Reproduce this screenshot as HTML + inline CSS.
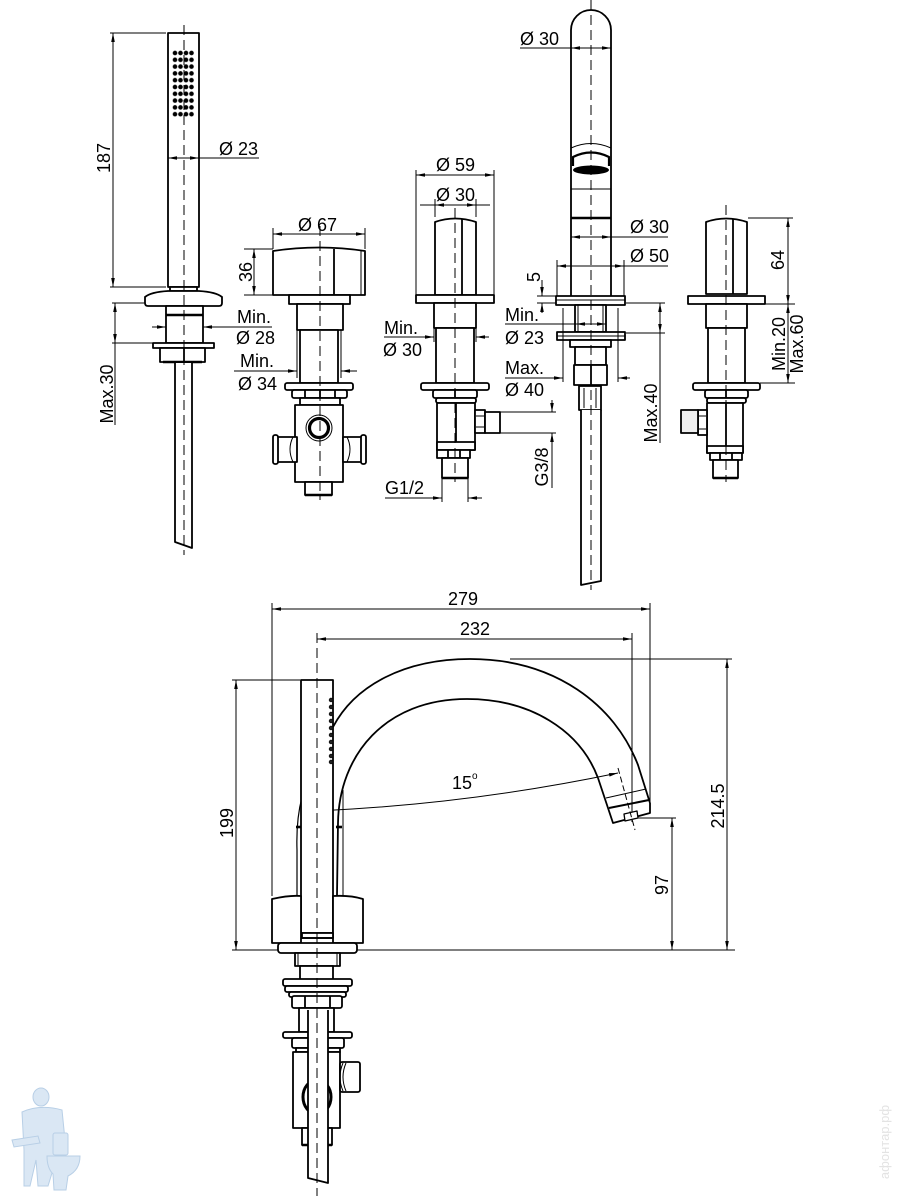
<!DOCTYPE html>
<html><head><meta charset="utf-8"><style>
html,body{margin:0;padding:0;background:#fff;}
svg{display:block;}
.o{fill:#fff;stroke:#000;stroke-width:1.8;stroke-linejoin:round;}
.n{fill:none;stroke:#000;stroke-width:1.8;stroke-linejoin:round;}
.t{fill:none;stroke:#000;stroke-width:2.6;}
.d{fill:none;stroke:#000;stroke-width:1;}
.c{fill:none;stroke:#000;stroke-width:1;stroke-dasharray:10 5;}
text{font-family:"Liberation Sans",Arial,sans-serif;font-size:18px;fill:#000;}
</style></head><body>
<svg width="900" height="1200" viewBox="0 0 900 1200" xmlns="http://www.w3.org/2000/svg">
<defs>
<marker id="ar" viewBox="0 0 10 4" refX="10" refY="2" markerWidth="10" markerHeight="3.6" orient="auto-start-reverse" markerUnits="userSpaceOnUse"><path d="M0,0L10,2L0,4Z" fill="#000"/></marker>
<pattern id="dots" x="172.25" y="49.6" width="5.5" height="6.8" patternUnits="userSpaceOnUse"><circle cx="2.75" cy="3.4" r="2.3" fill="#000"/></pattern>
</defs>

<!-- ============ COMPONENT 1: hand shower ============ -->
<rect class="o" x="168" y="33" width="31" height="254"/>
<rect x="172.25" y="49.6" width="22" height="68" fill="url(#dots)"/>
<rect class="o" x="170" y="287" width="27" height="4"/>
<path class="o" d="M168,291 L199,291 Q216,292 222,297 L222,303 Q222,306 219,306 L148,306 Q145,306 145,303 L145,297 Q151,292 168,291Z"/>
<rect class="o" x="166" y="306" width="37" height="37"/>
<line class="t" x1="166" y1="315" x2="203" y2="315"/>
<rect class="o" x="153" y="343" width="61" height="5"/>
<rect class="o" x="160" y="348" width="45" height="14"/>
<line class="n" x1="184" y1="348" x2="184" y2="362"/>
<line class="t" x1="163" y1="362" x2="202" y2="362"/>
<path class="o" d="M175,363 L175,542 L192,548 L192,363"/>
<line class="c" x1="184" y1="25" x2="184" y2="555"/>
<!-- dims -->
<line class="d" x1="110" y1="33" x2="166" y2="33"/>
<line class="d" x1="110" y1="287" x2="166" y2="287"/>
<line class="d" x1="113" y1="33" x2="113" y2="287" marker-start="url(#ar)" marker-end="url(#ar)"/>
<text transform="translate(110,158) rotate(-90)" text-anchor="middle">187</text>
<line class="d" x1="168" y1="158" x2="199" y2="158" marker-start="url(#ar)" marker-end="url(#ar)"/>
<line class="d" x1="199" y1="158" x2="259" y2="158"/>
<text x="219" y="155">Ø 23</text>
<line class="d" x1="112" y1="303" x2="145" y2="303"/>
<line class="d" x1="112" y1="343" x2="153" y2="343"/>
<line class="d" x1="115" y1="303" x2="115" y2="343" marker-start="url(#ar)" marker-end="url(#ar)"/>
<line class="d" x1="115" y1="343" x2="115" y2="425"/>
<text transform="translate(113,394) rotate(-90)" text-anchor="middle">Max.30</text>
<line class="d" x1="152" y1="327" x2="166" y2="327" marker-end="url(#ar)"/>
<line class="d" x1="272" y1="327" x2="203" y2="327" marker-end="url(#ar)"/>
<text x="237" y="323">Min.</text>
<text x="236" y="344">Ø 28</text>

<!-- ============ COMPONENT 2: diverter ============ -->
<path class="o" d="M273,295 L273,251 Q319,244 365,251 L365,295 Z"/>
<line class="n" x1="334" y1="249" x2="334" y2="295"/>
<line class="d" x1="361" y1="250" x2="361" y2="295"/>
<rect class="o" x="289" y="295" width="61" height="9"/>
<rect class="o" x="297" y="304" width="46" height="26"/>
<rect class="o" x="300" y="330" width="38" height="53"/>
<line class="d" x1="297" y1="330" x2="297" y2="378"/>
<line class="d" x1="341" y1="330" x2="341" y2="378"/>
<rect class="o" x="285" y="383" width="68" height="7" rx="2"/>
<rect class="o" x="292" y="390" width="55" height="8" rx="2"/>
<line class="n" x1="305" y1="390" x2="305" y2="398"/>
<line class="n" x1="320" y1="390" x2="320" y2="398"/>
<line class="n" x1="335" y1="390" x2="335" y2="398"/>
<rect class="o" x="300" y="398" width="40" height="7"/>
<rect class="o" x="295" y="405" width="48" height="77"/>
<rect class="o" x="277" y="437" width="20" height="25"/>
<rect class="o" x="273" y="435" width="5" height="29" rx="2"/>
<path class="d" d="M293,437 Q287,449 293,462"/>
<rect class="o" x="343" y="437" width="19" height="25"/>
<rect class="o" x="361" y="435" width="5" height="29" rx="2"/>
<path class="d" d="M347,437 Q353,449 347,462"/>
<circle cx="319" cy="428" r="13" fill="#fff" stroke="#000" stroke-width="1"/>
<circle cx="319" cy="428" r="9.5" fill="none" stroke="#000" stroke-width="3.2"/>
<rect class="o" x="305" y="482" width="27" height="13"/>
<line class="t" x1="305" y1="495" x2="332" y2="495"/>
<line class="c" x1="320" y1="226" x2="320" y2="500"/>
<!-- dims -->
<line class="d" x1="273" y1="228" x2="273" y2="249"/>
<line class="d" x1="365" y1="228" x2="365" y2="249"/>
<line class="d" x1="273" y1="234" x2="365" y2="234" marker-start="url(#ar)" marker-end="url(#ar)"/>
<text x="298" y="231">Ø 67</text>
<line class="d" x1="244" y1="249" x2="273" y2="249"/>
<line class="d" x1="244" y1="295" x2="289" y2="295"/>
<line class="d" x1="254" y1="249" x2="254" y2="295" marker-start="url(#ar)" marker-end="url(#ar)"/>
<text transform="translate(252,272) rotate(-90)" text-anchor="middle">36</text>
<line class="d" x1="234" y1="371" x2="297" y2="371" marker-end="url(#ar)"/>
<line class="d" x1="357" y1="371" x2="341" y2="371" marker-end="url(#ar)"/>
<text x="240" y="367">Min.</text>
<text x="238" y="390">Ø 34</text>

<!-- ============ COMPONENT 3: valve ============ -->
<path class="o" d="M435,295 L435,222 Q455,215 476,222 L476,295 Z"/>
<line class="n" x1="462" y1="219" x2="462" y2="295"/>
<rect class="o" x="416" y="295" width="78" height="8"/>
<rect class="o" x="434" y="303" width="42" height="25"/>
<rect class="o" x="436" y="328" width="38" height="55"/>
<line class="d" x1="434" y1="328" x2="434" y2="342"/>
<line class="d" x1="476" y1="328" x2="476" y2="342"/>
<rect class="o" x="421" y="383" width="68" height="7" rx="2"/>
<rect class="o" x="433" y="390" width="44" height="8" rx="2"/>
<line class="n" x1="455" y1="390" x2="455" y2="398"/>
<rect class="o" x="436" y="398" width="40" height="5" rx="2"/>
<rect class="o" x="437" y="403" width="38" height="47"/>
<line class="n" x1="456" y1="403" x2="456" y2="450"/>
<rect class="o" x="475" y="410" width="10" height="23"/>
<path class="d" d="M476,416 L484,416 M476,427 L484,427"/>
<rect class="o" x="485" y="412" width="15" height="21"/>
<rect class="o" x="437" y="442" width="38" height="8"/>
<rect class="o" x="437" y="450" width="33" height="8"/>
<line class="n" x1="448" y1="450" x2="448" y2="458"/>
<line class="n" x1="460" y1="450" x2="460" y2="458"/>
<rect class="o" x="442" y="458" width="26" height="20"/>
<line class="t" x1="442" y1="478" x2="468" y2="478"/>
<line class="c" x1="455" y1="208" x2="455" y2="482"/>
<!-- dims -->
<line class="d" x1="416" y1="170" x2="416" y2="295"/>
<line class="d" x1="494" y1="170" x2="494" y2="295"/>
<line class="d" x1="416" y1="175" x2="494" y2="175" marker-start="url(#ar)" marker-end="url(#ar)"/>
<text x="436" y="171">Ø 59</text>
<line class="d" x1="435" y1="199" x2="435" y2="217"/>
<line class="d" x1="476" y1="199" x2="476" y2="217"/>
<line class="d" x1="420" y1="205" x2="490" y2="205"/>
<line class="d" x1="435" y1="205" x2="476" y2="205" marker-start="url(#ar)" marker-end="url(#ar)"/>
<text x="436" y="201">Ø 30</text>
<line class="d" x1="384" y1="337" x2="434" y2="337" marker-end="url(#ar)"/>
<line class="d" x1="489" y1="337" x2="476" y2="337" marker-end="url(#ar)"/>
<text x="384" y="334">Min.</text>
<text x="383" y="356">Ø 30</text>
<line class="d" x1="500" y1="412" x2="556" y2="412"/>
<line class="d" x1="500" y1="433" x2="556" y2="433"/>
<line class="d" x1="552" y1="400" x2="552" y2="412" marker-end="url(#ar)"/>
<line class="d" x1="552" y1="488" x2="552" y2="433" marker-end="url(#ar)"/>
<text transform="translate(548,467) rotate(-90)" text-anchor="middle">G3/8</text>
<line class="d" x1="442" y1="478" x2="442" y2="502"/>
<line class="d" x1="468" y1="478" x2="468" y2="502"/>
<line class="d" x1="385" y1="498" x2="442" y2="498" marker-end="url(#ar)"/>
<line class="d" x1="482" y1="498" x2="468" y2="498" marker-end="url(#ar)"/>
<text x="385" y="494">G1/2</text>

<!-- ============ COMPONENT 4: pull-out spout ============ -->
<path class="o" d="M571,296 L571,30 A20,20 0 0 1 611,30 L611,296"/>
<path class="n" d="M571,148 Q591,139 611,148" style="stroke-width:1"/>
<path class="n" d="M573,166 L573,157 Q591,148 609,157 L609,166" style="stroke-width:2.2"/>
<ellipse cx="591" cy="170" rx="18" ry="4.5" fill="#000"/>
<line class="d" x1="571" y1="189" x2="611" y2="189"/>
<line class="t" x1="571" y1="218" x2="611" y2="218"/>
<rect class="o" x="556" y="296" width="69" height="9"/>
<line class="d" x1="556" y1="300" x2="625" y2="300"/>
<rect class="o" x="575" y="305" width="31" height="27"/>
<line class="d" x1="578" y1="305" x2="578" y2="332"/>
<line class="d" x1="603" y1="305" x2="603" y2="332"/>
<rect class="o" x="557" y="332" width="68" height="8"/>
<line class="d" x1="557" y1="336" x2="625" y2="336"/>
<rect class="o" x="570" y="340" width="41" height="7"/>
<rect class="o" x="575" y="347" width="31" height="18"/>
<rect class="o" x="574" y="365" width="33" height="20"/>
<line class="n" x1="591" y1="365" x2="591" y2="385"/>
<rect class="o" x="579" y="386" width="22" height="24"/>
<line class="d" x1="584" y1="388" x2="584" y2="408"/>
<line class="d" x1="596" y1="388" x2="596" y2="408"/>
<path class="o" d="M581,410 L581,585 L601,581 L601,410"/>
<line class="c" x1="591" y1="0" x2="591" y2="590"/>
<!-- dims -->
<line class="d" x1="520" y1="48" x2="571" y2="48"/>
<line class="d" x1="571" y1="48" x2="611" y2="48" marker-start="url(#ar)" marker-end="url(#ar)"/>
<text x="520" y="45">Ø 30</text>
<line class="d" x1="571" y1="237" x2="611" y2="237" marker-start="url(#ar)" marker-end="url(#ar)"/>
<line class="d" x1="611" y1="237" x2="668" y2="237"/>
<text x="630" y="233">Ø 30</text>
<line class="d" x1="557" y1="260" x2="557" y2="296"/>
<line class="d" x1="624" y1="260" x2="624" y2="296"/>
<line class="d" x1="557" y1="266" x2="624" y2="266" marker-start="url(#ar)" marker-end="url(#ar)"/>
<line class="d" x1="624" y1="266" x2="668" y2="266"/>
<text x="630" y="262">Ø 50</text>
<line class="d" x1="537" y1="296" x2="556" y2="296"/>
<line class="d" x1="537" y1="303" x2="556" y2="303"/>
<line class="d" x1="542" y1="280" x2="542" y2="296" marker-end="url(#ar)"/>
<line class="d" x1="542" y1="313" x2="542" y2="303" marker-end="url(#ar)"/>
<text transform="translate(540,277) rotate(-90)" text-anchor="middle">5</text>
<line class="d" x1="505" y1="324" x2="576" y2="324"/>
<line class="d" x1="576" y1="324" x2="606" y2="324" marker-start="url(#ar)" marker-end="url(#ar)"/>
<text x="505" y="321">Min.</text>
<text x="505" y="344">Ø 23</text>
<line class="d" x1="563" y1="308" x2="563" y2="382"/>
<line class="d" x1="618" y1="308" x2="618" y2="382"/>
<line class="d" x1="505" y1="378" x2="563" y2="378" marker-end="url(#ar)"/>
<line class="d" x1="630" y1="378" x2="618" y2="378" marker-end="url(#ar)"/>
<text x="505" y="374">Max.</text>
<text x="505" y="396">Ø 40</text>
<line class="d" x1="626" y1="303" x2="665" y2="303"/>
<line class="d" x1="626" y1="333" x2="665" y2="333"/>
<line class="d" x1="660" y1="303" x2="660" y2="333" marker-start="url(#ar)" marker-end="url(#ar)"/>
<line class="d" x1="660" y1="333" x2="660" y2="443"/>
<text transform="translate(657,413) rotate(-90)" text-anchor="middle">Max.40</text>

<!-- ============ COMPONENT 5: right valve ============ -->
<path class="o" d="M706,294 L706,222 Q726,215 747,222 L747,294 Z"/>
<line class="n" x1="733" y1="219" x2="733" y2="294"/>
<rect class="o" x="688" y="296" width="77" height="8"/>
<rect class="o" x="706" y="304" width="41" height="24"/>
<rect class="o" x="708" y="328" width="37" height="55"/>
<rect class="o" x="693" y="383" width="67" height="7" rx="2"/>
<rect class="o" x="705" y="390" width="43" height="8" rx="2"/>
<line class="n" x1="726" y1="390" x2="726" y2="398"/>
<rect class="o" x="707" y="398" width="39" height="5" rx="2"/>
<rect class="o" x="707" y="403" width="36" height="50"/>
<line class="n" x1="726" y1="403" x2="726" y2="453"/>
<rect class="o" x="698" y="410" width="9" height="25"/>
<path class="d" d="M699,416 L706,416 M699,429 L706,429"/>
<rect class="o" x="681" y="410" width="17" height="23" style="fill:#eee"/>
<rect class="o" x="707" y="446" width="36" height="7"/>
<rect class="o" x="710" y="453" width="32" height="7"/>
<line class="n" x1="720" y1="453" x2="720" y2="460"/>
<line class="n" x1="732" y1="453" x2="732" y2="460"/>
<rect class="o" x="713" y="460" width="25" height="18"/>
<line class="t" x1="713" y1="478" x2="738" y2="478"/>
<line class="c" x1="726" y1="205" x2="726" y2="482"/>
<!-- dims -->
<line class="d" x1="748" y1="218" x2="793" y2="218"/>
<line class="d" x1="765" y1="304" x2="795" y2="304"/>
<line class="d" x1="760" y1="383" x2="795" y2="383"/>
<line class="d" x1="788" y1="218" x2="788" y2="304" marker-start="url(#ar)" marker-end="url(#ar)"/>
<line class="d" x1="788" y1="304" x2="788" y2="383" marker-start="url(#ar)" marker-end="url(#ar)"/>
<text transform="translate(784,260) rotate(-90)" text-anchor="middle">64</text>
<text transform="translate(785,344) rotate(-90)" text-anchor="middle">Min.20</text>
<text transform="translate(803,344) rotate(-90)" text-anchor="middle">Max.60</text>

<!-- ============ BOTTOM: side view ============ -->
<line class="d" x1="232" y1="950" x2="735" y2="950"/>
<line class="d" x1="272" y1="603" x2="272" y2="896"/>
<line class="d" x1="650" y1="603" x2="650" y2="813"/>
<line class="d" x1="272" y1="609" x2="650" y2="609" marker-start="url(#ar)" marker-end="url(#ar)"/>
<text x="463" y="605" text-anchor="middle">279</text>
<line class="d" x1="632" y1="633" x2="632" y2="822"/>
<line class="d" x1="317" y1="639" x2="632" y2="639" marker-start="url(#ar)" marker-end="url(#ar)"/>
<text x="475" y="635" text-anchor="middle">232</text>
<path class="n" d="M302,797 Q296,820 297,850 L297,895" style="stroke-width:1.2"/>
<line class="t" x1="296" y1="827" x2="302" y2="827"/>
<path class="n" d="M333,727 C355,685 405,659 470,659 C555,659 615,705 638,765 L650,803"/>
<path class="n" d="M337,895 L338,823 C339,755 385,699 467,699 C530,699 580,730 598,778"/>
<line class="t" x1="336" y1="827" x2="342" y2="827"/>
<line class="d" x1="343" y1="790" x2="343" y2="895"/>
<path class="n" d="M598,778 L613,823 L650,813 L650,803"/>
<line class="d" x1="606" y1="798" x2="646" y2="789"/>
<line class="n" x1="609" y1="808" x2="649" y2="800" style="stroke-width:2"/>
<path class="o" d="M624,814 L637,811 L638,818 L625,821Z" style="stroke-width:1.3"/>
<path class="c" d="M618,768 L635,830" style="stroke-dasharray:6 3"/>
<path class="d" d="M317,811 Q470,804 618,773" marker-start="url(#ar)" marker-end="url(#ar)"/>
<text x="452" y="789">15</text>
<text x="472" y="779" style="font-size:10px">o</text>
<rect class="o" x="301" y="680" width="32" height="253"/>
<g fill="#222" stroke="#000" stroke-width="0.6">
<circle cx="331" cy="700" r="1.9"/><circle cx="331" cy="707" r="1.9"/><circle cx="331" cy="714" r="1.9"/><circle cx="331" cy="721" r="1.9"/><circle cx="331" cy="728" r="1.9"/><circle cx="331" cy="735" r="1.9"/><circle cx="331" cy="742" r="1.9"/><circle cx="331" cy="749" r="1.9"/><circle cx="331" cy="756" r="1.9"/><circle cx="331" cy="762" r="1.9"/>
</g>
<path class="o" d="M272,943 L272,899 Q290,895 301,896 L301,943 Z"/>
<path class="o" d="M333,943 L333,896 Q350,895 363,899 L363,943 Z"/>
<rect class="o" x="302" y="933" width="31" height="5"/>
<line class="o" x1="301" y1="938" x2="333" y2="938"/>
<rect class="o" x="278" y="943" width="79" height="10" rx="3"/>
<rect class="o" x="295" y="953" width="45" height="13"/>
<line class="d" x1="298" y1="953" x2="298" y2="966"/>
<line class="d" x1="337" y1="953" x2="337" y2="966"/>
<rect class="o" x="300" y="966" width="33" height="24"/>
<rect class="o" x="283" y="979" width="69" height="7" rx="2"/>
<rect class="o" x="285" y="986" width="63" height="6" rx="2"/>
<rect class="o" x="289" y="992" width="57" height="5" rx="2"/>
<rect class="o" x="292" y="996" width="50" height="12" rx="2"/>
<line class="n" x1="305" y1="996" x2="305" y2="1008"/>
<line class="n" x1="330" y1="996" x2="330" y2="1008"/>
<rect class="o" x="299" y="1008" width="35" height="24"/>
<rect class="o" x="283" y="1032" width="69" height="6" rx="2"/>
<rect class="o" x="292" y="1038" width="52" height="10" rx="2"/>
<rect class="o" x="296" y="1048" width="44" height="4"/>
<rect class="o" x="293" y="1052" width="47" height="76"/>
<rect class="o" x="340" y="1062" width="20" height="30" rx="2"/>
<path class="d" d="M343,1063 Q337,1077 343,1091"/>
<path class="d" d="M346,1063 Q340,1077 346,1091"/>
<ellipse cx="317" cy="1097" rx="14" ry="17" fill="#fff" stroke="#000" stroke-width="3"/>
<rect class="o" x="302" y="1128" width="30" height="17"/>
<line class="t" x1="302" y1="1145" x2="332" y2="1145"/>
<path class="o" d="M308,1010 L308,1178 L328,1183 L328,1010"/>
<line class="c" x1="317" y1="633" x2="317" y2="1196"/>
<line class="d" x1="232" y1="680" x2="300" y2="680"/>
<line class="d" x1="236" y1="680" x2="236" y2="950" marker-start="url(#ar)" marker-end="url(#ar)"/>
<text transform="translate(233,823) rotate(-90)" text-anchor="middle">199</text>
<line class="d" x1="510" y1="659" x2="732" y2="659"/>
<line class="d" x1="727" y1="659" x2="727" y2="950" marker-start="url(#ar)" marker-end="url(#ar)"/>
<text transform="translate(724,806) rotate(-90)" text-anchor="middle">214.5</text>
<line class="d" x1="638" y1="818" x2="676" y2="818"/>
<line class="d" x1="672" y1="818" x2="672" y2="950" marker-start="url(#ar)" marker-end="url(#ar)"/>
<text transform="translate(668,885) rotate(-90)" text-anchor="middle">97</text>

<!-- ============ logo ============ -->
<g fill="#dae7f4" stroke="#b8cfe6" stroke-width="1">
<path d="M22,1112 Q40,1104 62,1110 L66,1150 L56,1160 L48,1186 L38,1186 L36,1160 L30,1186 L24,1186 L24,1150 Z"/>
<ellipse cx="41" cy="1097" rx="8" ry="9"/>
<path d="M12,1140 L38,1136 L40,1143 L14,1147 Z"/>
<rect x="53" y="1133" width="15" height="22" rx="2"/>
<path d="M47,1156 L80,1156 Q80,1170 68,1176 L66,1190 L54,1190 L53,1174 Q47,1168 47,1156 Z"/>
</g>
<text transform="translate(889,1142) rotate(-90)" text-anchor="middle" style="font-size:13px;fill:#e3e3e3">афонтар.рф</text>
</svg>
</body></html>
